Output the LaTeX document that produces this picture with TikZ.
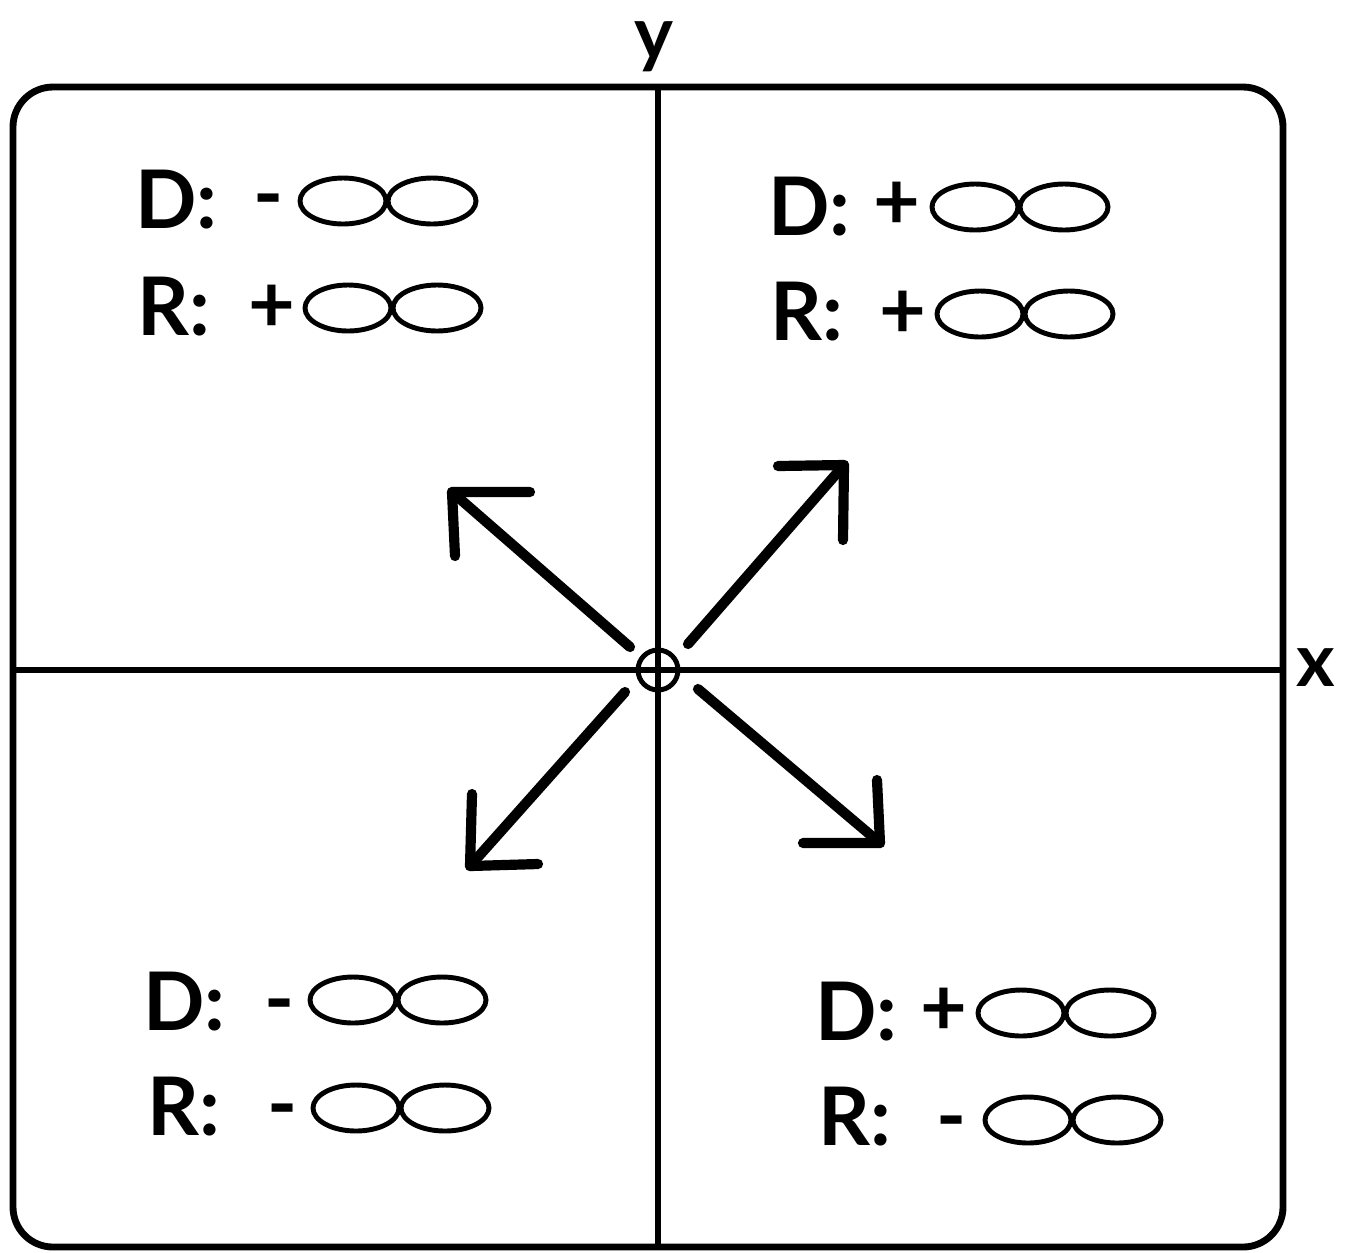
\documentclass[tikz,border=0pt]{standalone}
\usepackage{fontspec}
\setmainfont{Lato}
\begin{document}
\begin{tikzpicture}[x=0.02cm,y=-0.02cm,
  lbl/.style={font=\fontsize{46}{50}\selectfont\bfseries, inner sep=0pt, anchor=base west},
  sgn/.style={font=\fontsize{46}{50}\selectfont\bfseries, inner sep=0pt, anchor=base},
  axl/.style={font=\fontsize{42}{46}\selectfont\bfseries, inner sep=0pt},
  frame/.style={line width=3.9pt, rounded corners=0.8cm},
  axis/.style={line width=3.3pt},
  arr/.style={line width=5.8pt, line cap=round, line join=round},
  orbline/.style={line width=2.8pt},
  orb/.pic={\draw[orbline] (-44,0) ellipse [x radius=43, y radius=23];
            \draw[orbline] (45,0) ellipse [x radius=44, y radius=23];}]
\useasboundingbox (0,0) rectangle (1348,1252);
% frame
\draw[frame] (13,87) rectangle (1283,1247);
% axes
\coordinate (ytop) at (658,87);
\coordinate (ybot) at (658,1247);
\coordinate (xl) at (13,670);
\coordinate (xr) at (1283,670);
\draw[axis] (ytop) -- (ybot);
\draw[axis] (xl) -- (xr);
\node[axl] (ylab) at (654,47) {y};
\node[axl] (xlab) at (1316,668) {x};
\node[draw, circle, line width=2.8pt, inner sep=0pt, minimum size=0.8cm] (o) at (658,670) {};
% arrows
\coordinate (nw0) at (630,647); \coordinate (nw1) at (452,492);
\coordinate (ne0) at (688,644); \coordinate (ne1) at (844,465);
\coordinate (sw0) at (625,692); \coordinate (sw1) at (470,866);
\coordinate (se0) at (698,689); \coordinate (se1) at (880,843);
\draw[arr] (nw0) -- (nw1);
\draw[arr] (530,492) -- (nw1) -- (455,556);
\draw[arr] (ne0) -- (ne1);
\draw[arr] (778,466) -- (ne1) -- (843,540);
\draw[arr] (sw0) -- (sw1);
\draw[arr] (472,794) -- (sw1) -- (538,864);
\draw[arr] (se0) -- (se1);
\draw[arr] (877,780) -- (se1) -- (803,843);
% top-left
\node[lbl] (tlD) at (135,228) {D:};
\node[sgn] (tlDs) at (269,222) {-};
\pic at (387,201) {orb};
\node[lbl] (tlR) at (137,335) {R:};
\node[sgn] (tlRs) at (272,332) {+};
\pic at (392,308) {orb};
% top-right
\node[lbl] (trD) at (768,235) {D:};
\node[sgn] (trDs) at (897,229) {+};
\pic at (1019,207) {orb};
\node[lbl] (trR) at (770,340) {R:};
\node[sgn] (trRs) at (903,338) {+};
\pic at (1024,314) {orb};
% bottom-left
\node[lbl] (blD) at (143,1030) {D:};
\node[sgn] (blDs) at (280,1027) {-};
\pic at (397,1000) {orb};
\node[lbl] (blR) at (147,1135) {R:};
\node[sgn] (blRs) at (283,1132) {-};
\pic at (400,1108) {orb};
% bottom-right
\node[lbl] (brD) at (815,1040) {D:};
\node[sgn] (brDs) at (944,1035) {+};
\pic at (1065,1013) {orb};
\node[lbl] (brR) at (818,1145) {R:};
\node[sgn] (brRs) at (952,1144) {-};
\pic at (1072,1120) {orb};
\end{tikzpicture}
\end{document}
